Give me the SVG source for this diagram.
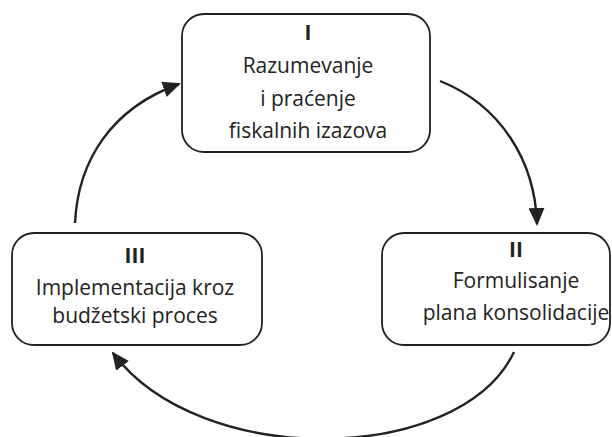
<svg xmlns="http://www.w3.org/2000/svg" width="612" height="437" viewBox="0 0 612 437">
<style>
.box{fill:#fff;stroke:#222;stroke-width:1.8}
.t{font-family:"Open Sans","Noto Sans",sans-serif;font-size:21px;fill:#222;text-anchor:middle}
.b{font-weight:bold}
.c{fill:none;stroke:#222;stroke-width:2.4}
</style>
<defs>
<marker id="ah" viewBox="0 0 18 16" refX="16" refY="8" markerWidth="18" markerHeight="16" markerUnits="userSpaceOnUse" orient="auto">
<path d="M0,0 L18,8 L0,16 z" fill="#222"/>
</marker>
</defs>
<rect width="612" height="437" fill="#fff"/>
<g id="connectors">
<path class="c" d="M440,81 C500,105 535,160 537,224" marker-end="url(#ah)"/>
<path class="c" d="M514,352 C460,465 200,470 113,353" marker-end="url(#ah)"/>
<path class="c" d="M75,223 C78,160 112,108 179,84" marker-end="url(#ah)"/>
</g>
<g id="node1">
<rect class="box" x="182" y="14" width="248" height="138" rx="22"/>
<text class="t b" x="308" y="40">I</text>
<text class="t" x="308" y="73">Razumevanje</text>
<text class="t" x="308" y="106">i praćenje</text>
<text class="t" x="308" y="138">fiskalnih izazova</text>
</g>
<g id="node2">
<rect class="box" x="382" y="233" width="228" height="112" rx="22"/>
<text class="t b" x="516" y="257">II</text>
<text class="t" x="516" y="288">Formulisanje</text>
<text class="t" x="516" y="320">plana konsolidacije</text>
</g>
<g id="node3">
<rect class="box" x="12" y="233" width="250" height="112" rx="22"/>
<text class="t b" x="135" y="263">III</text>
<text class="t" x="135" y="295">Implementacija kroz</text>
<text class="t" x="135" y="323">budžetski proces</text>
</g>
</svg>
